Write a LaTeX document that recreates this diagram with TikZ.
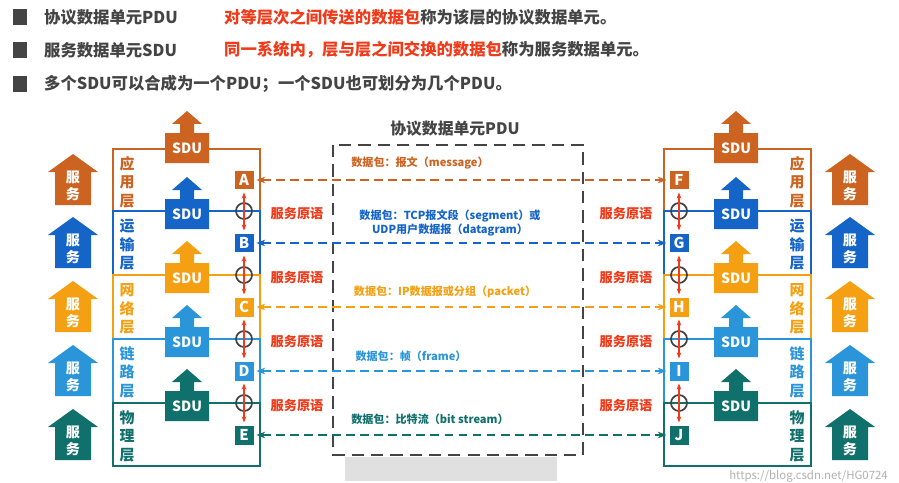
\documentclass[tikz,border=0pt]{standalone}
\usepackage{fontspec}
\setmainfont{Noto Sans CJK SC}
\usetikzlibrary{arrows.meta}
\definecolor{capp}{HTML}{CC6320}
\definecolor{ctra}{HTML}{1565C8}
\definecolor{cnet}{HTML}{F5A012}
\definecolor{clnk}{HTML}{2A95D8}
\definecolor{cphy}{HTML}{10706C}
\definecolor{cred}{HTML}{F03A1A}
\definecolor{ctxt}{HTML}{444444}
\tikzset{
 letter/.style={fill=#1,text=white,minimum size=0.38cm,inner sep=0pt,font=\fontsize{8.5}{8}\selectfont\bfseries},
 lay/.style={draw=#1,line width=1.3pt},
 laylab/.style={text=#1,font=\fontsize{8.5}{10.5}\selectfont\bfseries,align=center},
 prim/.style={text=cred,font=\fontsize{7.5}{8}\selectfont\bfseries},
 pkt/.style={text=#1,font=\fontsize{6.3}{8}\selectfont\bfseries,align=center},
 peer/.style={draw=#1,dashed,line width=1.2pt,dash pattern=on 5pt off 3pt,{Stealth[length=5pt]}-{Stealth[length=5pt]}},
 redarr/.style={draw=cred,line width=0.8pt,{Stealth[length=3.5pt]}-{Stealth[length=3.5pt]}},
 ring/.style={draw=ctxt,line width=1pt},
}
\newcommand\SDUarrow[3]{%
 \fill[#3] (#1-22,#2+15) -- (#1+22,#2+15) -- (#1+22,#2-15) -- (#1+7,#2-15) -- (#1+7,#2-24) -- (#1+15,#2-24) -- (#1,#2-37) -- (#1-15,#2-24) -- (#1-7,#2-24) -- (#1-7,#2-15) -- (#1-22,#2-15) -- cycle;
 \node[text=white,font=\fontsize{8}{8}\selectfont\bfseries] at (#1,#2) {SDU};}
\newcommand\SVCarrow[3]{%
 \fill[#3] (#1-18,#2+25) -- (#1+18,#2+25) -- (#1+18,#2-8) -- (#1+25,#2-8) -- (#1,#2-26) -- (#1-25,#2-8) -- (#1-18,#2-8) -- cycle;
 \node[text=white,font=\fontsize{8}{9.5}\selectfont\bfseries,align=center] at (#1,#2+6) {服\\务};}
\begin{document}
\begin{tikzpicture}[x=0.02cm,y=-0.02cm]
\useasboundingbox[fill=white] (0,0) rectangle (899,483);
% header
\foreach \y in {17,50,84} \fill[ctxt] (13,\y-8) rectangle (27,\y+8);
\begin{scope}[font=\fontsize{9.3}{10}\selectfont\bfseries]
\node[anchor=west,text=ctxt] (h1) at (38,17) {协议数据单元PDU};
\node[anchor=west] (h1b) at (218,17) {\textcolor{cred}{对等层次之间传送的数据包}\textcolor{ctxt}{称为该层的协议数据单元。}};
\node[anchor=west,text=ctxt] (h2) at (38,50) {服务数据单元SDU};
\node[anchor=west] (h2b) at (218,50) {\textcolor{cred}{同一系统内，层与层之间交换的数据包}\textcolor{ctxt}{称为服务数据单元。}};
\node[anchor=west,text=ctxt] (h3) at (38,84) {多个SDU可以合成为一个PDU；一个SDU也可划分为几个PDU。};
\end{scope}
% center box
\draw[draw=ctxt,line width=1.6pt,dash pattern=on 7pt off 4pt] (333,145) rectangle (583,455);
\node[text=ctxt,font=\fontsize{9}{10}\selectfont\bfseries] (pdu) at (455,129) {协议数据单元PDU};
% stacks
\foreach \xo/\xl/\xs/\xsv/\xlab/\xpr in {113/244/187/73/127/297, 664/679/736/850/797/626}{
 \draw[lay=capp] (\xo,149) rectangle (\xo+147,211);
 \draw[lay=ctra] (\xo,211) rectangle (\xo+147,275);
 \draw[lay=cnet] (\xo,275) rectangle (\xo+147,339);
 \draw[lay=clnk] (\xo,339) rectangle (\xo+147,403);
 \draw[lay=cphy] (\xo,403) rectangle (\xo+147,466);
 \node[laylab=capp] at (\xlab,182) {应\\用\\层};
 \node[laylab=ctra] at (\xlab,245) {运\\输\\层};
 \node[laylab=cnet] at (\xlab,309) {网\\络\\层};
 \node[laylab=clnk] at (\xlab,372) {链\\路\\层};
 \node[laylab=cphy] at (\xlab,436) {物\\理\\层};
 \SDUarrow{\xs}{148}{capp}
 \SDUarrow{\xs}{214}{ctra}
 \SDUarrow{\xs}{278}{cnet}
 \SDUarrow{\xs}{342}{clnk}
 \SDUarrow{\xs}{406}{cphy}
 \SVCarrow{\xsv}{180}{capp}
 \SVCarrow{\xsv}{243}{ctra}
 \SVCarrow{\xsv}{307}{cnet}
 \SVCarrow{\xsv}{371}{clnk}
 \SVCarrow{\xsv}{435}{cphy}
 \foreach \y in {211,275,339,403}{
  \draw[ring] (\xl,\y) circle[radius=0.16cm];
  \node[prim] at (\xpr,\y+2) {服务原语};}
}
% letters
\node[letter=capp] (A) at (244,180) {A};
\node[letter=ctra] (B) at (244,243) {B};
\node[letter=cnet] (C) at (244,307) {C};
\node[letter=clnk] (D) at (244,371) {D};
\node[letter=cphy] (E) at (244,435) {E};
\node[letter=capp] (F) at (679,180) {F};
\node[letter=ctra] (G) at (679,243) {G};
\node[letter=cnet] (H) at (679,307) {H};
\node[letter=clnk] (I) at (679,371) {I};
\node[letter=cphy] (J) at (679,435) {J};
\foreach \a/\b in {A/B,B/C,C/D,D/E,F/G,G/H,H/I,I/J}
 \draw[redarr] ([yshift=-1.5pt]\a.south) -- ([yshift=1.5pt]\b.north);
% peer arrows
\draw[peer=capp] ([xshift=1.5pt]A.east) -- ([xshift=-1.5pt]F.west);
\draw[peer=ctra] ([xshift=1.5pt]B.east) -- ([xshift=-1.5pt]G.west);
\draw[peer=cnet] ([xshift=1.5pt]C.east) -- ([xshift=-1.5pt]H.west);
\draw[peer=clnk] ([xshift=1.5pt]D.east) -- ([xshift=-1.5pt]I.west);
\draw[peer=cphy] ([xshift=1.5pt]E.east) -- ([xshift=-1.5pt]J.west);
\node[pkt=capp,fill=white,inner sep=1pt] (p1) at (420,163) {数据包：报文（message）};
\node[pkt=ctra,fill=white,inner sep=1pt] (p2) at (450,223) {数据包：TCP报文段（segment）或\\UDP用户数据报（datagram）};
\node[pkt=cnet,fill=white,inner sep=1pt] (p3) at (445,292) {数据包：IP数据报或分组（packet）};
\node[pkt=clnk,fill=white,inner sep=1pt] (p4) at (411,356) {数据包：帧（frame）};
\node[pkt=cphy,fill=white,inner sep=1pt] (p5) at (430,419) {数据包：比特流（bit stream）};
% bottom blur and watermark
\fill[black!12] (345,457) rectangle (557,481);
\node[text=black!30,font=\fontsize{6.5}{7}\selectfont,anchor=east] (wm) at (894,476) {https://blog.csdn.net/HG0724};
\end{tikzpicture}
\end{document}
